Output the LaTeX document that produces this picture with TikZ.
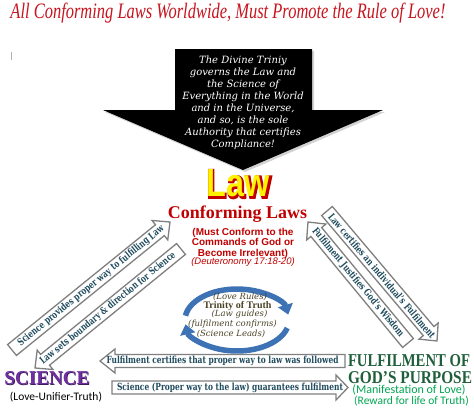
\documentclass[tikz,border=0pt]{standalone}
\usepackage{fontspec}
\usepackage{graphicx}
\setmainfont{Liberation Serif}
\newfontfamily\sansf{Liberation Sans}
\newfontfamily\calf{Carlito}
\newfontfamily\dvserif{DejaVu Serif}
\newfontfamily\lawfat[FakeBold=4]{Liberation Sans Bold}
\newfontfamily\lawthin{Liberation Sans Bold}
\usetikzlibrary{calc,arrows.meta}
\definecolor{titlered}{HTML}{C8141E}
\definecolor{lawred}{HTML}{C00000}
\definecolor{arrowtxt}{HTML}{1F4B5E}
\definecolor{boxgray}{HTML}{808080}
\definecolor{scipurple}{HTML}{7030A0}
\definecolor{scishadow}{HTML}{3D1A5C}
\definecolor{fulgreen}{HTML}{1F5F3B}
\definecolor{brightgreen}{HTML}{00A651}
\definecolor{cycleblue}{HTML}{3D72B4}
\definecolor{trinitycol}{HTML}{4A4226}
\definecolor{lawyellow}{HTML}{FFF200}
\tikzset{
  arrowbox/.style={draw=boxgray, fill=white, line width=1.3pt, line join=miter},
  arrowlabel/.style={inner sep=0pt, text=arrowtxt, font=\dvserif\bfseries\fontsize{9.8}{9.8}\selectfont},
  plain/.style={inner sep=0pt},
  cyclearrow/.style={draw=cycleblue, line width=5.5pt, -{Triangle[width=15pt,length=10pt]}},
  cycletext/.style={inner sep=0pt, text=trinitycol, font=\dvserif\itshape\fontsize{8.5}{8.5}\selectfont},
}
% #1 name, #2 tail, #3 tip, #4 shaft half width, #5 head half width, #6 head length, #7 label
\newcommand\blockarrow[7]{%
  \coordinate (#1-t) at #2;
  \coordinate (#1-p) at #3;
  \coordinate (#1-h) at ($(#1-p)!#6!(#1-t)$);
  \draw[arrowbox] ($(#1-t)!#4!90:(#1-p)$) -- ($(#1-h)!#4!90:(#1-p)$) -- ($(#1-h)!#5!90:(#1-p)$) -- (#1-p)
     -- ($(#1-h)!#5!-90:(#1-p)$) -- ($(#1-h)!#4!-90:(#1-p)$) -- ($(#1-t)!#4!-90:(#1-p)$) -- cycle;
  \path (#1-t) -- (#1-p) node[midway, sloped, arrowlabel] (#1) {#7};
}
\begin{document}
\begin{tikzpicture}[x=1pt,y=-1pt]
\useasboundingbox (0,0) rectangle (474,408);
\fill[white] (0,0) rectangle (474,408);

% title
\node[plain, text=titlered, anchor=base] (title) at (228,18) {\resizebox{435pt}{15.5pt}{\itshape All Conforming Laws Worldwide, Must Promote the Rule of Love!}};

% cursor mark
\draw[gray!60, line width=0.8pt] (11,52) -- (11,60);

% big black arrow
\fill[gray!35] (177,51) -- (314,51) -- (314,112) -- (385,112) -- (245,172) -- (105,112) -- (177,112) -- cycle;
\fill[black] (175,49) -- (312,49) -- (312,110) -- (383,110) -- (243,170) -- (103,110) -- (175,110) -- cycle;
\node[plain, text=white, font=\dvserif\itshape\fontsize{10}{12}\selectfont, align=center] (divine) at (243,103)
  {The Divine Triniy\\governs the Law and\\the Science of\\Everything in the World\\and in the Universe,\\and so, is the sole\\Authority that certifies\\Compliance!};

% Law (red outline under yellow letters)
\coordinate (lawc) at (238.5,183.5);
\node[plain, text=lawred] (lawoutline) at ($(lawc)+(0.6,0.6)$) {\resizebox{65pt}{28.5pt}{\lawfat Law}};
\node[plain, text=lawyellow] (law) at (lawc) {\resizebox{63pt}{27pt}{\lawthin Law}};

\node[plain, text=lawred] (conf) at (237.5,214.5) {\resizebox{139pt}{!}{\bfseries Conforming Laws}};
\node[plain, text=lawred, font=\sansf\bfseries\fontsize{10}{10.5}\selectfont, align=center] (must) at (243,243)
  {(Must Conform to the\\Commands of God or\\Become Irrelevant)};
\node[plain, text=lawred, font=\sansf\itshape\fontsize{9.5}{10}\selectfont] (deut) at (243,262.5) {(Deuteronomy 17:18-20)};

% cycle
\coordinate (cyc) at (237,320);
\draw[cyclearrow] ($(cyc)+(172:52pt and 31pt)$) arc[start angle=172, end angle=10, x radius=52pt, y radius=31pt];
\draw[cyclearrow] ($(cyc)+(-15:52pt and 31pt)$) arc[start angle=-15, end angle=-172, x radius=52pt, y radius=31pt];
\node[cycletext] (loverules) at (240,297) {(Love Rules)};
\node[plain, text=trinitycol, font=\bfseries\fontsize{10}{10}\selectfont] (trinity) at (237.5,306.5) {Trinity of Truth};
\node[cycletext] (lawguides) at (239.5,314.5) {(Law guides)};
\node[cycletext] (fulconf) at (232.5,324) {(fulfilment confirms)};
\node[cycletext] (scilead) at (231,333.5) {(Science Leads)};

% block arrows
\blockarrow{a1}{(12,350)}{(170,222)}{7pt}{12.5pt}{13pt}{\resizebox{185pt}{\height}{Science provides proper way to fulfilling Law}}
\blockarrow{a2}{(181,249)}{(35,368)}{7pt}{12.5pt}{13pt}{\resizebox{172pt}{\height}{Law sets boundary \& direction for Science}}
\blockarrow{a3}{(327,211)}{(437,341)}{7pt}{12.5pt}{13pt}{\resizebox{160pt}{\height}{Law certifies an individual’s Fulfilment}}
\blockarrow{a4}{(408,343)}{(308,222)}{7pt}{12.5pt}{13pt}{\resizebox{138pt}{\height}{Fulfilment Justifies God’s Wisdom}}
\blockarrow{a5}{(345,361)}{(100,361)}{6.5pt}{12pt}{15pt}{\resizebox{232pt}{\height}{Fulfilment certifies that proper way to law was followed}}
\blockarrow{a6}{(112,387.5)}{(348,387.5)}{6.5pt}{12.5pt}{12pt}{\resizebox{226pt}{\height}{Science (Proper way to the law) guarantees fulfilment}}

% corner labels
\node[plain, text=scishadow] (scishade) at (47.8,379.3) {\resizebox{85pt}{13pt}{\bfseries SCIENCE}};
\node[plain, text=scipurple] (science) at (47,378.5) {\resizebox{85pt}{13pt}{\bfseries SCIENCE}};
\node[plain, font=\calf\fontsize{11.5}{11.5}\selectfont] (lut) at (56,397) {(Love-Unifier-Truth)};

\node[plain, text=fulgreen] (ful1) at (409,361) {\resizebox{122pt}{12pt}{\bfseries FULFILMENT OF}};
\node[plain, text=fulgreen] (ful2) at (410,377.5) {\resizebox{124pt}{12pt}{\bfseries GOD’S PURPOSE}};
\node[plain, text=brightgreen, font=\calf\fontsize{12}{12}\selectfont] (manif) at (409,389.5) {(Manifestation of Love)};
\node[plain, text=brightgreen, font=\calf\fontsize{11.5}{11.5}\selectfont] (reward) at (411.5,401) {(Reward for life of Truth)};
\end{tikzpicture}
\end{document}
